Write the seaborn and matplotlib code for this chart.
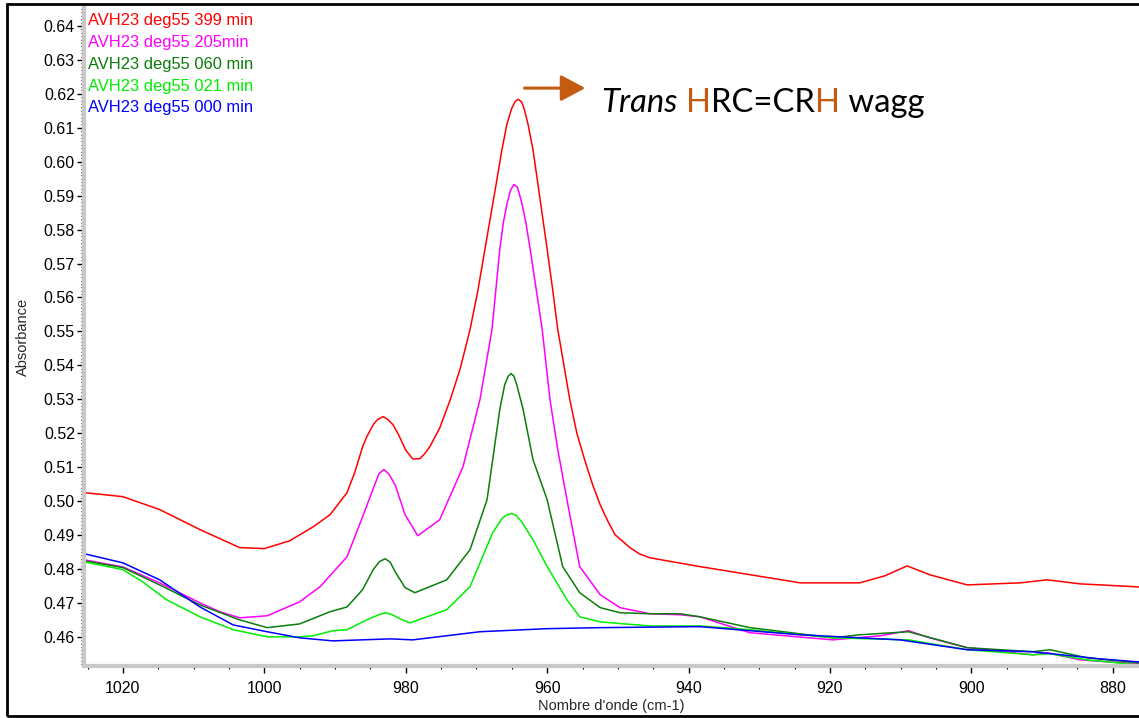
import matplotlib
matplotlib.use("Agg")
import matplotlib.pyplot as plt
from matplotlib.ticker import MultipleLocator, FormatStrFormatter
from matplotlib.patches import Rectangle
import seaborn as sns
import pandas as pd

# ---- spectra (wavenumber in cm-1, absorbance) ----
wn_399 = [1025.5, 1020.0, 1014.8, 1009.1, 1003.5, 1000.0, 996.4, 993.1, 990.7, 988.3,
          987.2, 986.1, 985.5, 984.6, 984.0, 983.2, 982.5, 981.8, 981.0, 980.0,
          979.0, 978.0, 977.3, 976.6, 975.2, 973.7, 972.3, 970.9, 969.8, 968.8,
          967.1, 966.4, 965.7, 965.0, 964.5, 964.1, 963.6, 963.2, 962.7, 962.0,
          961.4, 960.0, 959.2, 958.5, 956.8, 955.8, 954.7, 953.6, 952.5, 951.4,
          950.4, 948.3, 947.0, 945.5, 938.4, 931.3, 924.2, 915.8, 912.2, 909.1,
          905.9, 900.6, 893.1, 889.3, 884.6, 881.8, 876.3]
abs_399 = [0.5025, 0.5013, 0.4975, 0.4916, 0.4863, 0.4860, 0.4883, 0.4924, 0.4960, 0.5025,
           0.5085, 0.5160, 0.5190, 0.5225, 0.5240, 0.5249, 0.5240, 0.5225, 0.5195, 0.5150,
           0.5124, 0.5125, 0.5140, 0.5160, 0.5215, 0.5299, 0.5390, 0.5506, 0.5620, 0.5742,
           0.5948, 0.6035, 0.6110, 0.6158, 0.6178, 0.6184, 0.6176, 0.6152, 0.6110, 0.6035,
           0.5948, 0.5742, 0.5620, 0.5506, 0.5299, 0.5200, 0.5122, 0.5050, 0.4989, 0.4940,
           0.4901, 0.4863, 0.4845, 0.4833, 0.4807, 0.4783, 0.4759, 0.4759, 0.4780, 0.4809,
           0.4783, 0.4753, 0.4759, 0.4768, 0.4756, 0.4753, 0.4747]

wn_205 = [1025.5, 1020.0, 1014.8, 1009.1, 1006.3, 1003.5, 999.6, 995.0, 992.1, 988.3,
          986.1, 984.5, 983.8, 983.1, 982.4, 981.5, 980.1, 978.3, 975.2, 971.9,
          969.5, 967.8, 966.7, 966.2, 965.7, 965.2, 964.7, 964.2, 963.6, 963.0,
          962.4, 960.7, 959.6, 958.5, 957.2, 955.4, 952.5, 949.7, 945.5, 941.2,
          938.4, 931.3, 919.6, 912.9, 908.9, 905.9, 900.6, 891.3, 889.3, 884.6,
          876.3]
abs_205 = [0.4827, 0.4806, 0.4759, 0.4700, 0.4674, 0.4656, 0.4662, 0.4703, 0.4748, 0.4836,
           0.4954, 0.5042, 0.5080, 0.5093, 0.5080, 0.5048, 0.4960, 0.4898, 0.4945, 0.5101,
           0.5299, 0.5506, 0.5742, 0.5820, 0.5874, 0.5915, 0.5933, 0.5925, 0.5880, 0.5820,
           0.5742, 0.5506, 0.5299, 0.5152, 0.5004, 0.4807, 0.4724, 0.4686, 0.4668, 0.4665,
           0.4659, 0.4612, 0.4591, 0.4603, 0.4618, 0.4597, 0.4568, 0.4547, 0.4553, 0.4532,
           0.4520]

wn_060 = [1025.5, 1020.0, 1014.8, 1009.1, 1003.5, 999.6, 995.0, 990.7, 988.3, 986.1,
          984.6, 983.7, 982.9, 982.2, 981.5, 980.1, 978.7, 974.2, 970.9, 968.5,
          966.7, 966.0, 965.5, 965.1, 964.7, 964.3, 963.4, 962.0, 960.0, 957.8,
          955.4, 952.5, 949.7, 945.5, 941.2, 938.4, 931.3, 919.6, 915.8, 908.9,
          900.6, 891.3, 888.9, 883.6, 876.3]
abs_060 = [0.4824, 0.4804, 0.4753, 0.4694, 0.4650, 0.4627, 0.4638, 0.4674, 0.4688, 0.4739,
           0.4798, 0.4822, 0.4830, 0.4820, 0.4792, 0.4745, 0.4730, 0.4768, 0.4857, 0.5004,
           0.5270, 0.5343, 0.5368, 0.5376, 0.5368, 0.5343, 0.5270, 0.5122, 0.5004, 0.4807,
           0.4730, 0.4686, 0.4671, 0.4668, 0.4668, 0.4659, 0.4627, 0.4597, 0.4606, 0.4615,
           0.4568, 0.4556, 0.4562, 0.4538, 0.4523]

wn_021 = [1025.5, 1020.0, 1017.2, 1013.8, 1009.1, 1004.4, 999.6, 995.0, 993.1, 990.3,
          988.3, 985.5, 983.7, 982.8, 981.9, 980.8, 979.4, 974.2, 970.9, 967.7,
          966.3, 965.6, 965.0, 964.4, 963.6, 962.0, 960.0, 957.2, 955.4, 952.5,
          945.5, 938.4, 931.3, 919.6, 908.9, 900.6, 891.3, 888.9, 883.6, 876.3]
abs_021 = [0.4821, 0.4798, 0.4762, 0.4709, 0.4659, 0.4621, 0.4600, 0.4600, 0.4603, 0.4618,
           0.4621, 0.4650, 0.4666, 0.4671, 0.4665, 0.4653, 0.4641, 0.4680, 0.4748, 0.4907,
           0.4951, 0.4960, 0.4963, 0.4958, 0.4939, 0.4886, 0.4807, 0.4709, 0.4659, 0.4644,
           0.4632, 0.4632, 0.4621, 0.4597, 0.4591, 0.4562, 0.4547, 0.4550, 0.4532, 0.4517]

wn_000 = [1025.5, 1020.0, 1014.8, 1009.1, 1004.4, 999.6, 995.0, 990.3, 982.2, 979.0,
          969.5, 960.0, 952.5, 938.4, 924.2, 910.1, 900.6, 891.3, 881.8, 876.3]
abs_000 = [0.4845, 0.4818, 0.4768, 0.4688, 0.4635, 0.4615, 0.4597, 0.4588, 0.4594, 0.4591,
           0.4615, 0.4624, 0.4627, 0.4630, 0.4606, 0.4591, 0.4562, 0.4556, 0.4535, 0.4526]

labels = ["AVH23 deg55 399 min", "AVH23 deg55 205min", "AVH23 deg55 060 min",
          "AVH23 deg55 021 min", "AVH23 deg55 000 min"]
colors = ["#ff0000", "#ff00ff", "#0a7d0a", "#00ee00", "#0000ff"]
series_wn = [wn_399, wn_205, wn_060, wn_021, wn_000]
series_abs = [abs_399, abs_205, abs_060, abs_021, abs_000]

frames = []
for lab, w, a in zip(labels, series_wn, series_abs):
    frames.append(pd.DataFrame({"wn": w, "absorbance": a, "spectrum": lab}))
df = pd.concat(frames, ignore_index=True)

sns.set_theme(style="white")
plt.rcParams["font.family"] = ["Liberation Sans", "DejaVu Sans"]

fig = plt.figure(figsize=(11.39, 7.18), dpi=100)
ax = fig.add_axes([84 / 1139, 1 - 666 / 718, 1 - 84 / 1139, (666 - 7) / 718])

sns.lineplot(data=df, x="wn", y="absorbance", hue="spectrum", hue_order=labels,
             palette=dict(zip(labels, colors)), estimator=None, sort=True,
             linewidth=1.1, legend=False, ax=ax)

ax.set_xlim(1025.5, 876.3)
ax.set_ylim(0.4514, 0.6456)

ax.xaxis.set_major_locator(MultipleLocator(20))
ax.xaxis.set_minor_locator(MultipleLocator(5))
ax.yaxis.set_major_locator(MultipleLocator(0.01))
ax.yaxis.set_minor_locator(MultipleLocator(0.001))
ax.yaxis.set_major_formatter(FormatStrFormatter("%.2f"))
ax.xaxis.set_major_formatter(FormatStrFormatter("%d"))

for side in ("top", "right"):
    ax.spines[side].set_visible(False)
for side in ("left", "bottom"):
    ax.spines[side].set_color("#c8c8c8")
    ax.spines[side].set_linewidth(3)

ax.tick_params(axis="both", which="major", direction="out", length=5, width=1,
               color="black", labelsize=11.5, labelcolor="black", pad=1.5)
ax.tick_params(axis="both", which="minor", direction="out", length=2.5, width=0.8,
               color="black")
ax.tick_params(axis="x", which="major", pad=6)
ax.tick_params(left=True, bottom=True, which="both")

ax.set_xlabel("Nombre d'onde (cm-1)", fontsize=10.5, labelpad=2)
ax.set_ylabel("Absorbance", fontsize=10.5, labelpad=10)

# colored series names, top-left
for i, (lab, col) in enumerate(zip(labels, colors)):
    ax.text(0.004, 0.979 - i * 0.0330, lab, color=col, fontsize=11.9,
            transform=ax.transAxes, ha="left", va="center")

# band assignment with arrow
accent = "#c55a11"
ax.annotate("", xy=(954.6, 0.6217), xytext=(963.2, 0.6217),
            arrowprops=dict(arrowstyle="-|>,head_length=0.75,head_width=0.4",
                            color=accent, lw=2.2, mutation_scale=20,
                            shrinkA=0, shrinkB=0))

parts = [("Trans", "black", "italic"), (" ", "black", "normal"), ("H", accent, "normal"),
         ("RC=CR", "black", "normal"), ("H", accent, "normal"), (" wagg", "black", "normal")]
prev = ax.text(952.3, 0.6172, parts[0][0], color=parts[0][1], style=parts[0][2],
               fontsize=23.6, family=["Lato", "DejaVu Sans"], va="center", ha="left")
for txt, col, sty in parts[1:]:
    prev = ax.annotate(txt, xy=(1, 0), xycoords=prev, va="bottom", ha="left",
                       color=col, style=sty, fontsize=23.6, family=["Lato", "DejaVu Sans"])

# outer frame
fig.add_artist(Rectangle((7 / 1139, 2 / 718), 1.2, 1 - 6 / 718, transform=fig.transFigure,
                         fill=False, edgecolor="black", linewidth=2))

fig.savefig("out.png", dpi=100)
